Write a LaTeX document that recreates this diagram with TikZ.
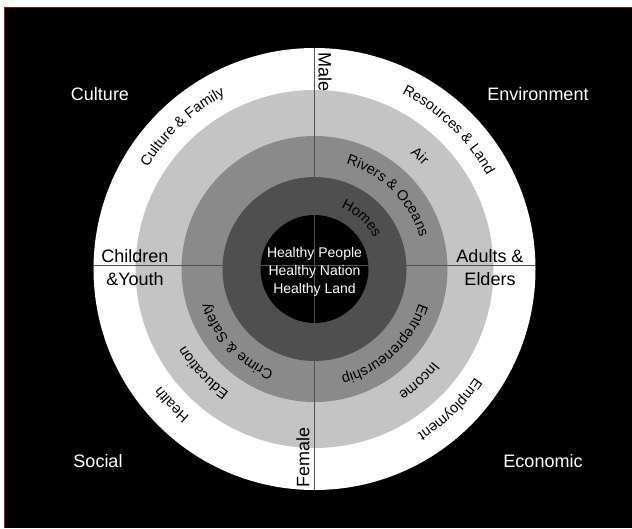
\documentclass[tikz,border=0pt]{standalone}
\usepackage{fontspec}
\setmainfont{Liberation Sans}
\usetikzlibrary{decorations.text,calc}
\definecolor{ringA}{HTML}{C4C4C4}
\definecolor{ringB}{HTML}{8A8A8A}
\definecolor{ringC}{HTML}{4F4F4F}
\definecolor{axisgray}{HTML}{505050}
\definecolor{edgered}{HTML}{7A1A1A}
\newcommand{\arcfont}{\fontsize{14.5}{17}\selectfont}
\newcommand{\arclabel}[4]{%
  \path[decorate, decoration={text along path, text align=center, text={|\arcfont|#4}}]
    ($(C)+(#1+#3:#2pt)$) arc[start angle=#1+#3, end angle=#1-#3, radius=#2pt];
}
\begin{document}
\begin{tikzpicture}[x=1pt,y=1pt,
  corner/.style={text=white, font=\fontsize{18}{22}\selectfont, inner sep=0pt},
  side/.style={text=black, font=\fontsize{18}{23}\selectfont, align=center, inner sep=0pt},
  core/.style={text=white, font=\fontsize{14}{18}\selectfont, align=center, inner sep=0pt},
  axis/.style={draw=axisgray, line width=1pt}]
\useasboundingbox (0,0) rectangle (632,528);
\fill[white] (0,0) rectangle (632,528);
\fill[black] (4,0) rectangle (632,521);
\draw[edgered, line width=0.6pt] (4,0) -- (4,521) -- (632,521);
\coordinate (C) at (314.5,259);
\fill[white] (C) circle[radius=221pt];
\fill[ringA] (C) circle[radius=179pt];
\fill[ringB] (C) circle[radius=133pt];
\fill[ringC] (C) circle[radius=92pt];
\fill[black] (C) circle[radius=54pt];
\coordinate (top) at (314.5,480);
\coordinate (bot) at (314.5,38);
\coordinate (lft) at (93.5,262);
\coordinate (rgt) at (535.5,262);
\draw[axis] (top) -- (bot);
\draw[axis] (lft) -- (rgt);
% corner labels
\node[corner] (culture) at (100,434) {Culture};
\node[corner] (environment) at (538,434) {Environment};
\node[corner] (social) at (98,67) {Social};
\node[corner] (economic) at (543,67) {Economic};
% side labels
\node[side] (children) at (135,260.5) {Children\\\&Youth};
\node[side] (adults) at (490,260.5) {Adults \&\\Elders};
\node[side, rotate=-90] (male) at (325,456) {Male};
\node[side, rotate=90] (female) at (303,71) {Female};
% centre
\node[core] (healthy) at (314.5,256) {Healthy People\\Healthy Nation\\Healthy Land};
% curved labels
\arclabel{133}{195}{60}{Culture {\&} Family}
\arclabel{46}{196}{60}{Resources {\&} Land}
\arclabel{47}{150}{60}{Air}
\arclabel{45}{110}{60}{Rivers {\&} Oceans}
\arclabel{47}{67}{70}{Homes}
\arclabel{223}{110}{60}{Crime {\&} Safety}
\arclabel{223}{150}{60}{Education}
\arclabel{223.5}{193}{60}{Health}
\arclabel{-47}{110}{70}{Entrepreneurship}
\arclabel{-47}{150}{60}{Income}
\arclabel{-46}{194}{60}{Employment}
\end{tikzpicture}
\end{document}
